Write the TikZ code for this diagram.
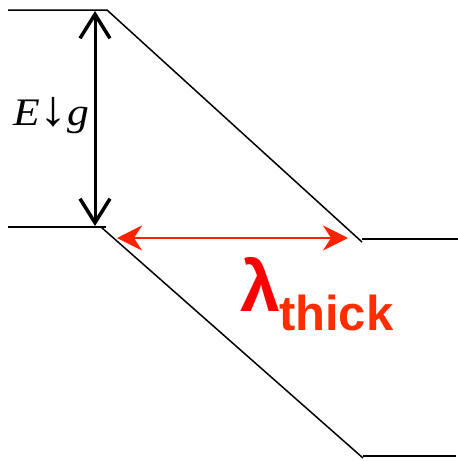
\documentclass[tikz,border=0pt]{standalone}
\usepackage{fontspec}
\usetikzlibrary{arrows.meta}
\newfontfamily\serifit{Liberation Serif}
\newfontfamily\sansbold{Liberation Sans}
\definecolor{lamred}{RGB}{255,0,0}
\definecolor{thickred}{RGB}{255,45,0}
\definecolor{arrred}{RGB}{255,34,0}
\tikzset{
  level/.style={draw=black, line width=1.5pt},
  gaparrow/.style={draw=black, line width=3pt,
    {Straight Barb[length=24pt,width=30pt,line width=3.5pt]}-{Straight Barb[length=24pt,width=30pt,line width=3.5pt]}},
  widtharrow/.style={draw=arrred, line width=2.5pt,
    {Stealth[length=25pt,width=25pt,inset=8pt]}-{Stealth[length=25pt,width=25pt,inset=8pt]}},
  lbl/.style={inner sep=0pt, outer sep=0pt}
}
\begin{document}
\begin{tikzpicture}[x=1pt,y=-1pt]
\useasboundingbox (0,0) rectangle (458,461);
% coordinates
\coordinate (tl) at (8,10);
\coordinate (tr) at (107,10);
\coordinate (ur) at (362,242);
\coordinate (ure) at (458,239);
\coordinate (urs) at (362,239);
\coordinate (ml) at (8,227);
\coordinate (mr) at (106,227);
\coordinate (ms) at (101,227);
\coordinate (lr) at (363,458);
\coordinate (lrs) at (363,456);
\coordinate (lre) at (456,456);
% levels
\draw[level] (tl) -- (tr) -- (ur);
\draw[level] (urs) -- (ure);
\draw[level] (ml) -- (mr);
\draw[level] (ms) -- (lr);
\draw[level] (lrs) -- (lre);
% arrows
\coordinate (ga) at (95,11);
\coordinate (gb) at (95,226);
\draw[gaparrow] (ga) -- (gb);
\coordinate (wa) at (117,238);
\coordinate (wb) at (348,238);
\draw[widtharrow] (wa) -- (wb);
% labels
\node[lbl, anchor=base west, xscale=1.12, font=\serifit\itshape\fontsize{39}{39}\selectfont] (eg) at (13,125) {E{\fontsize{50}{50}\selectfont ↓}g};
\node[lbl, anchor=base west, text=lamred, font=\sansbold\bfseries\fontsize{72}{72}\selectfont] (lam) at (240,311) {λ};
\node[lbl, anchor=base west, text=thickred, font=\sansbold\bfseries\fontsize{49}{49}\selectfont] (thk) at (279,330) {thick};
\end{tikzpicture}
\end{document}
